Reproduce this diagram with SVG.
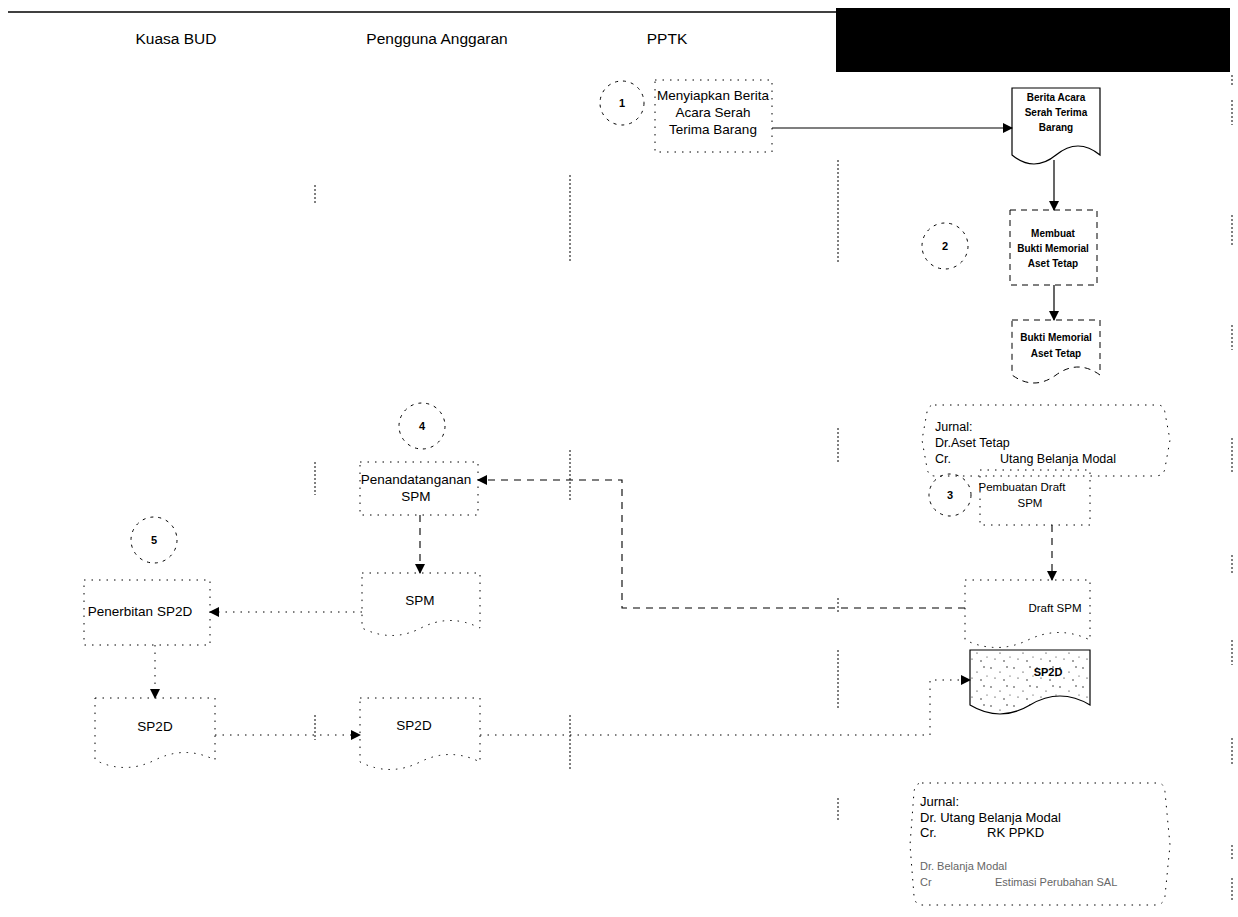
<svg xmlns="http://www.w3.org/2000/svg" width="1238" height="917" viewBox="0 0 1238 917">
<defs>
<marker id="arr" markerUnits="userSpaceOnUse" markerWidth="10" markerHeight="10" refX="9" refY="5" orient="auto">
<path d="M0,0 L10,5 L0,10 Z" fill="#000"/>
</marker>
<pattern id="stip" patternUnits="userSpaceOnUse" width="23" height="19">
<circle cx="2" cy="3" r="0.7" fill="#000"/><circle cx="11" cy="7" r="0.6" fill="#000"/><circle cx="18" cy="2" r="0.7" fill="#000"/>
<circle cx="6" cy="13" r="0.6" fill="#000"/><circle cx="15" cy="15" r="0.7" fill="#000"/><circle cx="21" cy="11" r="0.5" fill="#000"/>
</pattern>
<style>
.hdr{font-family:"Liberation Sans",Arial,sans-serif;font-size:15.5px;fill:#000;text-anchor:middle}
.t{font-family:"Liberation Sans",Arial,sans-serif;font-size:13.5px;fill:#000;text-anchor:middle}
.ts{font-family:"Liberation Sans",Arial,sans-serif;font-size:11.5px;fill:#000;text-anchor:middle}
.tb{font-family:"Liberation Sans",Arial,sans-serif;font-size:10px;font-weight:bold;fill:#000;text-anchor:middle}
.num{font-family:"Liberation Sans",Arial,sans-serif;font-size:11px;font-weight:bold;fill:#000;text-anchor:middle}
.tl{font-family:"Liberation Sans",Arial,sans-serif;font-size:12.5px;fill:#000}
.tl2{font-family:"Liberation Sans",Arial,sans-serif;font-size:13px;fill:#000}
.tg{font-family:"Liberation Sans",Arial,sans-serif;font-size:11px;fill:#666}
.solid{fill:none;stroke:#000;stroke-width:1.2}
.dash{fill:none;stroke:#000;stroke-width:1;stroke-dasharray:6 5}
.faint{fill:none;stroke:#000;stroke-width:1;stroke-dasharray:1.5 6}
.circ{fill:none;stroke:#000;stroke-width:1;stroke-dasharray:3 5}
.lane{fill:none;stroke:#000;stroke-width:1;stroke-dasharray:2 2}
.conn{fill:none;stroke:#000;stroke-width:1.2}
.connd{fill:none;stroke:#000;stroke-width:1.1;stroke-dasharray:7 6}
</style>
</defs>

<g id="frame">
<line x1="8" y1="12" x2="836" y2="12" stroke="#000" stroke-width="1.6"/>
<rect x="836" y="8" width="394" height="64" fill="#000"/>
<path class="lane" d="M315,185 V205 M315,462 V495 M315,715 V740"/>
<path class="lane" d="M570,175 V262 M570,450 V500 M570,715 V770"/>
<path class="lane" d="M838,160 V262 M838,428 V462 M838,598 V612 M838,650 V708 M838,798 V822"/>
<path class="lane" d="M1232,75 V85 M1232,100 V125 M1232,215 V245 M1232,325 V350 M1232,438 V472 M1232,555 V575 M1232,640 V665 M1232,738 V765 M1232,845 V860 M1232,878 V900"/>
<text class="hdr" x="176" y="44">Kuasa BUD</text>
<text class="hdr" x="437" y="44">Pengguna Anggaran</text>
<text class="hdr" x="667" y="44">PPTK</text>
</g>

<g id="connectors">
<line class="conn" x1="772" y1="128" x2="1012" y2="128" marker-end="url(#arr)"/>
<line class="conn" x1="1054" y1="160" x2="1054" y2="210" marker-end="url(#arr)"/>
<line class="conn" x1="1054" y1="285" x2="1054" y2="320" marker-end="url(#arr)"/>
<line class="connd" x1="1052" y1="525" x2="1052" y2="580" marker-end="url(#arr)"/>
<polyline class="connd" points="965,608 622,608 622,480 478,480" marker-end="url(#arr)"/>
<line class="connd" x1="420" y1="515" x2="420" y2="573" marker-end="url(#arr)"/>
<line class="faint" x1="362" y1="612" x2="210" y2="612" marker-end="url(#arr)"/>
<line class="faint" x1="155" y1="645" x2="155" y2="698" marker-end="url(#arr)"/>
<line class="faint" x1="215" y1="735" x2="360" y2="735" marker-end="url(#arr)"/>
<polyline class="faint" points="480,735 930,735 930,680 970,680" marker-end="url(#arr)"/>
</g>

<g id="n1">
<circle class="circ" cx="622" cy="103" r="22"/>
<text class="num" x="622" y="107">1</text>
<rect class="faint" x="655" y="80" width="117" height="72"/>
<text class="t" x="713" y="100">Menyiapkan Berita</text>
<text class="t" x="713" y="117">Acara Serah</text>
<text class="t" x="713" y="134">Terima Barang</text>
</g>

<g id="docA">
<path class="solid" d="M1012,88 H1100 V155 Q1078,137 1056,155 T1012,155 Z"/>
<text class="tb" x="1056" y="101">Berita Acara</text>
<text class="tb" x="1056" y="116">Serah Terima</text>
<text class="tb" x="1056" y="131">Barang</text>
</g>

<g id="n2">
<circle class="circ" cx="945" cy="246" r="23"/>
<text class="num" x="945" y="250">2</text>
<rect class="dash" x="1010" y="210" width="87" height="75"/>
<text class="tb" x="1053" y="237">Membuat</text>
<text class="tb" x="1053" y="252">Bukti Memorial</text>
<text class="tb" x="1053" y="267">Aset Tetap</text>
</g>

<g id="docB">
<path class="dash" d="M1012,320 H1100 V375 Q1078,359 1056,375 T1012,375 Z"/>
<text class="tb" x="1056" y="341">Bukti Memorial</text>
<text class="tb" x="1056" y="357">Aset Tetap</text>
</g>

<g id="jurnal1">
<path class="faint" d="M935,405 H1158 Q1164,405 1165,413 L1170,440 L1165,468 Q1164,476 1155,476 H935 Q928,476 927,468 L922,440 L927,412 Q928,405 935,405 Z"/>
<text class="tl" x="935" y="431">Jurnal:</text>
<text class="tl" x="935" y="447">Dr.Aset Tetap</text>
<text class="tl" x="935" y="463">Cr.</text>
<text class="tl" x="1000" y="463">Utang Belanja Modal</text>
</g>

<g id="n3">
<circle class="circ" cx="950" cy="495" r="21"/>
<text class="num" x="950" y="499">3</text>
<rect class="faint" x="980" y="470" width="110" height="55"/>
<text class="ts" x="1022" y="491">Pembuatan Draft</text>
<text class="ts" x="1030" y="507">SPM</text>
</g>

<g id="docDraft">
<path class="faint" d="M965,580 H1090 V640 Q1059,625 1028,640 T965,640 Z"/>
<text class="ts" x="1055" y="612">Draft SPM</text>
</g>

<g id="docSP2D4">
<path d="M970,650 H1090 V705 Q1060,687 1030,705 T970,705 Z" fill="url(#stip)" stroke="#000" stroke-width="1.2"/>
<text class="tb" x="1048" y="676" style="font-size:11px">SP2D</text>
</g>

<g id="jurnal2">
<path class="faint" d="M922,783 H1158 Q1164,783 1165,792 L1170,845 L1165,896 Q1164,905 1155,905 H922 Q915,905 914,896 L910,845 L914,792 Q915,783 922,783 Z"/>
<text class="tl2" x="920" y="806">Jurnal:</text>
<text class="tl2" x="920" y="822">Dr. Utang Belanja Modal</text>
<text class="tl2" x="920" y="837">Cr.</text>
<text class="tl2" x="987" y="837">RK PPKD</text>
<text class="tg" x="920" y="870">Dr. Belanja Modal</text>
<text class="tg" x="920" y="886">Cr</text>
<text class="tg" x="995" y="886">Estimasi Perubahan SAL</text>
</g>

<g id="n4">
<circle class="circ" cx="422" cy="426" r="23"/>
<text class="num" x="422" y="430">4</text>
<rect class="faint" x="360" y="462" width="118" height="53"/>
<text class="t" x="416" y="484">Penandatanganan</text>
<text class="t" x="416" y="501">SPM</text>
</g>

<g id="docSPM">
<path class="faint" d="M362,573 H480 V628 Q450,613 421,628 T362,628 Z"/>
<text class="t" x="420" y="605">SPM</text>
</g>

<g id="docSP2D2">
<path class="faint" d="M360,698 H480 V762 Q450,747 420,762 T360,762 Z"/>
<text class="t" x="414" y="730">SP2D</text>
</g>

<g id="n5">
<circle class="circ" cx="154" cy="540" r="23"/>
<text class="num" x="154" y="544">5</text>
<rect class="faint" x="84" y="580" width="126" height="65"/>
<text class="t" x="140" y="616">Penerbitan SP2D</text>
</g>

<g id="docSP2D1">
<path class="faint" d="M95,698 H215 V760 Q185,745 155,760 T95,760 Z"/>
<text class="t" x="155" y="731">SP2D</text>
</g>
</svg>
